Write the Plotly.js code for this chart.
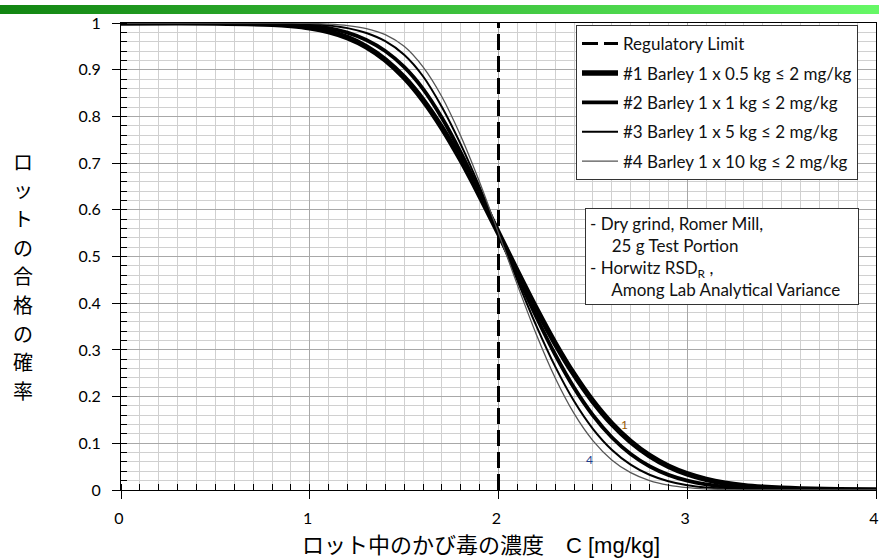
<!DOCTYPE html>
<html>
<head>
<meta charset="utf-8">
<script src="https://cdn.plot.ly/plotly-3.0.1.min.js"></script>
<style>
  html, body { margin: 0; padding: 0; background: #fff; }
  #wrap { position: relative; width: 879px; height: 559px; overflow: hidden; }
  #bar { position: absolute; left: 0; top: 5px; width: 879px; height: 9px;
         background: linear-gradient(to right, #128512, #3fc43f 55%, #66f866); z-index: 5; }
  #plot { position: absolute; left: 0; top: 0; width: 879px; height: 559px; }
</style>
</head>
<body>
<div id="wrap">
  <div id="plot"></div>
  <div id="bar"></div>
</div>
<script>
// Concentration C [mg/kg]
const conc = [0, 0.5, 0.8, 0.9, 1.0, 1.1, 1.2, 1.3, 1.4, 1.5, 1.6, 1.7, 1.8, 1.9, 2.0,
              2.1, 2.2, 2.3, 2.4, 2.5, 2.6, 2.7, 2.8, 2.9, 3.0, 3.1, 3.2, 3.3, 3.4, 3.5, 3.6, 3.8, 4.0];
// Probability of lot acceptance for each sampling plan
const plan1 = [1.000, 1.000, 0.9974, 0.9947, 0.9899, 0.9817, 0.9687, 0.9491, 0.9212, 0.8834, 0.835, 0.7758, 0.7071, 0.6308, 0.5501,
               0.468, 0.3886, 0.3142, 0.2476, 0.190, 0.142, 0.1035, 0.0735, 0.0509, 0.0345, 0.0228, 0.0147, 0.0093, 0.0058, 0.0035, 0.0021, 0.0007, 0.0002];
const plan2 = [1.000, 0.9999, 0.9989, 0.9974, 0.9946, 0.9891, 0.9795, 0.9637, 0.9400, 0.9060, 0.8590, 0.7970, 0.7227, 0.6395, 0.5501,
               0.459, 0.371, 0.2901, 0.2192, 0.1601, 0.113, 0.0771, 0.0508, 0.0324, 0.020, 0.0119, 0.0069, 0.0039, 0.0021, 0.0011, 0.0006, 0.0001, 0.0];
const plan3 = [1.000, 1.000, 0.9996, 0.9990, 0.9976, 0.9948, 0.9890, 0.9785, 0.9610, 0.9320, 0.8860, 0.8200, 0.7400, 0.6488, 0.5501,
               0.449, 0.352, 0.2647, 0.1905, 0.1311, 0.0863, 0.0543, 0.0326, 0.0188, 0.0103, 0.0054, 0.0028, 0.0013, 0.0006, 0.0003, 0.0001, 0.0, 0.0];
const plan4 = [1.000, 1.000, 0.9999, 0.9997, 0.9991, 0.9976, 0.9945, 0.9880, 0.9750, 0.9500, 0.9060, 0.8420, 0.7580, 0.6590, 0.5501,
               0.4392, 0.3336, 0.2404, 0.164, 0.1058, 0.0645, 0.0371, 0.0202, 0.0104, 0.005, 0.0023, 0.001, 0.0004, 0.0002, 0.0001, 0.0, 0.0, 0.0];
const limitX = [2, 2];
const limitY = [0, 1];

const names = ["Regulatory Limit",
               "#1 Barley 1 x 0.5 kg ≤ 2 mg/kg",
               "#2 Barley 1 x 1 kg ≤ 2 mg/kg",
               "#3 Barley 1 x 5 kg ≤ 2 mg/kg",
               "#4 Barley 1 x 10 kg ≤ 2 mg/kg"];
const yTitleChars = ["ロ", "ッ", "ト", "の", "合", "格", "の", "確", "率"];
const xTitle = "ロット中のかび毒の濃度\u3000C [mg/kg]";
const noteText = "- Dry grind, Romer Mill,<br>&nbsp;&nbsp;&nbsp;&nbsp;&nbsp;25 g Test Portion<br>- Horwitz RSD<sub>R</sub> ,<br>&nbsp;&nbsp;&nbsp;&nbsp;&nbsp;Among Lab Analytical Variance";

const series = [plan1, plan2, plan3, plan4];
const widths = [5.5, 3.8, 2.0, 1.3];
const colors = ["#000000", "#000000", "#000000", "#555555"];

const traces = [{
  x: limitX, y: limitY, mode: "lines", name: names[0], legendgroup: "g0",
  line: { color: "#000", width: 3, dash: "16px,6px" }, hoverinfo: "skip"
}];
series.forEach((s, i) => {
  traces.push({
    x: conc, y: s, mode: "lines", name: names[i + 1], legendgroup: "g" + (i + 1),
    line: { color: colors[i], width: widths[i], shape: "spline", smoothing: 1 }
  });
});

const L = 121, R = 876, T = 23, B = 490;
const pw = R - L, ph = B - T;
const px2x = p => (p - L) / pw;
const px2y = p => (B - p) / ph;

const annotations = [];
const yStart = 161, yStep = 28.7;
yTitleChars.forEach((c, i) => {
  annotations.push({
    xref: "paper", yref: "paper", x: px2x(23), y: px2y(yStart + i * yStep),
    text: c, showarrow: false, xanchor: "center", yanchor: "middle",
    font: { family: "Noto Sans CJK JP", size: 20, color: "#000" }
  });
});
annotations.push({
  xref: "paper", yref: "paper", x: px2x(481), y: px2y(545),
  text: xTitle, showarrow: false, xanchor: "center", yanchor: "middle",
  font: { family: "Liberation Sans, Noto Sans CJK JP", size: 22, color: "#000" }
});
annotations.push({
  xref: "paper", yref: "paper", x: px2x(585), y: px2y(208),
  text: noteText, showarrow: false, xanchor: "left", yanchor: "top", align: "left",
  bordercolor: "#333", borderwidth: 1, borderpad: 4, bgcolor: "#fff",
  width: 264,
  font: { family: "Lato", size: 17, color: "#111" }
});
annotations.push({
  x: 2.67, y: 0.14, xref: "x", yref: "y", text: "1", showarrow: false,
  font: { family: "Lato", size: 12, color: "#9a5a00" }
});
annotations.push({
  x: 2.48, y: 0.066, xref: "x", yref: "y", text: "4", showarrow: false,
  font: { family: "Lato", size: 12, color: "#1f3c88" }
});

const layout = {
  width: 879, height: 559,
  margin: { l: L, r: 879 - R, t: T, b: 559 - B, pad: 0 },
  paper_bgcolor: "#fff", plot_bgcolor: "#fff",
  showlegend: true,
  legend: {
    x: px2x(576), y: px2y(25), xanchor: "left", yanchor: "top",
    bgcolor: "#fff", bordercolor: "#333", borderwidth: 1,
    font: { family: "Lato", size: 17, color: "#111" },
    traceorder: "grouped", tracegroupgap: 4.3, itemwidth: 36
  },
  xaxis: {
    range: [0, 4], dtick: 1, tick0: 0,
    ticks: "outside", ticklen: 8, tickcolor: "#000", tickwidth: 1,
    showline: true, linecolor: "#000", linewidth: 1, mirror: true,
    zeroline: false,
    showgrid: true, gridcolor: "#a8a8a8", gridwidth: 1,
    minor: { dtick: 0.1, ticks: "inside", ticklen: 6, tickcolor: "#000", showgrid: true, gridcolor: "#d0d0d0", gridwidth: 1 },
    tickfont: { family: "Lato", size: 16, color: "#000" },
    ticklabelstandoff: 6,
    ticklabelshift: -2,
    ticklabeloverflow: "allow"
  },
  yaxis: {
    range: [0, 1], dtick: 0.1, tick0: 0,
    ticks: "outside", ticklen: 8, tickcolor: "#000", tickwidth: 1,
    showline: true, linecolor: "#000", linewidth: 1, mirror: true,
    zeroline: false,
    showgrid: true, gridcolor: "#a8a8a8", gridwidth: 1,
    minor: { dtick: 0.02, ticks: "inside", ticklen: 6, tickcolor: "#000", showgrid: true, gridcolor: "#d0d0d0", gridwidth: 1 },
    tickfont: { family: "Lato", size: 16, color: "#000" },
    ticklabelstandoff: 8
  },
  annotations: annotations
};

Plotly.newPlot("plot", traces, layout, { staticPlot: true, displayModeBar: false });
</script>
</body>
</html>
